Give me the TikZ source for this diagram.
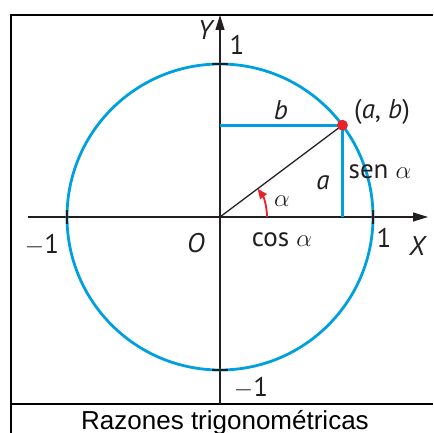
\documentclass[tikz,border=0pt]{standalone}
\usepackage{fontspec}
\setmainfont{PT Sans}
\newfontfamily\capfont{Liberation Sans}
\usetikzlibrary{arrows.meta}
\definecolor{circblue}{RGB}{0,160,222}
\definecolor{ptred}{RGB}{232,32,40}
\definecolor{inkgray}{RGB}{35,31,32}
\tikzset{
  axis/.style={-{Triangle[length=15pt,width=9pt]}, draw=inkgray, line width=1.2pt},
  unitcirc/.style={draw=circblue, line width=2.8pt},
  proj/.style={draw=circblue, line width=3.2pt},
  radius/.style={draw=inkgray, line width=1.3pt},
  tickmark/.style={draw=inkgray, line width=1.6pt},
  lbl/.style={font=\fontsize{27}{29}\selectfont, text=inkgray, inner sep=0pt},
  frame/.style={draw=black, line width=2pt},
}

\begin{document}
\begin{tikzpicture}[x=1pt, y=1pt]
% origin sits at O; the picture is 433 x 433
\useasboundingbox (-220,-216) rectangle (213,217);
\def\rr{153}

% frame, open on the right
\draw[frame] (213,202) -- (-209,202) -- (-209,-216);
\draw[frame] (-209,-187) -- (213,-187);

% axes
\coordinate (O) at (0,0);
\coordinate (xs) at (-192,0);
\coordinate (xe) at (208,0);
\coordinate (ys) at (0,-187);
\coordinate (ye) at (0,202);
\draw[axis] (xs) -- (xe);
\draw[axis] (ys) -- (ye);

% unit circle
\draw[unitcirc] (O) circle (\rr);

% ticks at 1 and -1
\foreach \t in {-1,1} {
  \draw[tickmark] (\t*\rr,-7) -- (\t*\rr,7);
  \draw[tickmark] (-8,\t*\rr) -- (8,\t*\rr);
}

% the point (a,b) and its projections
\coordinate (pab) at (0.8*\rr,0.6*\rr);
\coordinate (pb) at (0,0.6*\rr);
\coordinate (pa) at (0.8*\rr,0);
\draw[proj] (pb) -- (pab);
\draw[proj] (pab) -- (pa);
\draw[radius] (O) -- (pab);
\fill[ptred] (pab) circle (5.5);

% angle
\coordinate (arcstart) at (47,0);
\draw[ptred, line width=1.8pt, -{Triangle[length=10pt,width=8pt]}]
  (arcstart) arc (0:37:47pt);

% labels
\node[lbl] (ylab) at (-15,187) {\itshape Y};
\node[lbl] (xlab) at (197,-29) {\itshape X};
\node[lbl] (olab) at (-24,-26) {\itshape O};
\node[lbl] (onetop) at (17,172) {1};
\node[lbl] (oneright) at (164,-21) {1};
\node[lbl] (mleft) at (-178,-28) {$-$1};
\node[lbl] (mbottom) at (31,-171) {$-$1};
\node[lbl] (blab) at (61,107) {\itshape b};
\node[lbl] (alab) at (103,34) {\itshape a};
\node[lbl] (ptlab) at (162,105) {(\textit{a}, \textit{b})};
\node[lbl] (senlab) at (160,45) {sen $\alpha$};
\node[lbl] (coslab) at (62,-23) {cos $\alpha$};
\node[lbl] (alpha) at (62,16) {$\alpha$};

% caption
\node[font=\capfont\fontsize{26}{28}\selectfont, anchor=base, inner sep=0pt]
  (caption) at (5,-212) {Razones trigonométricas};
\end{tikzpicture}
\end{document}
